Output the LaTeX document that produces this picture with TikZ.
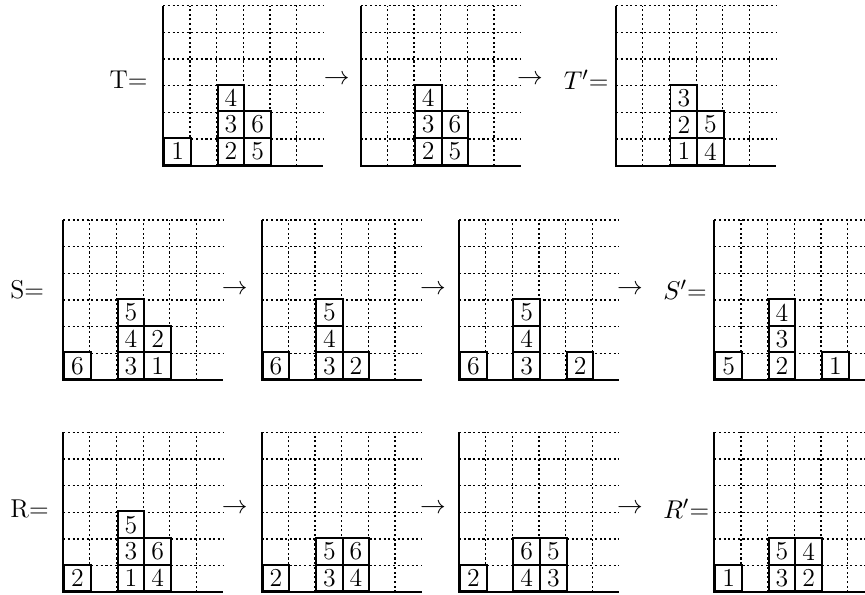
\documentclass[tikz,border=0pt]{standalone}
\usepackage{amsmath,amssymb}
\usepackage{tikz}

% one frame of the diagram: #1,#2 origin, #3 name prefix, #4 filled cells col/row/entry
\newcommand{\youngtab}[4]{%
  \begin{scope}[shift={(#1,#2)}]
    \foreach \i in {1,...,5} \draw[gridline] (\i,0) -- (\i,6);
    \foreach \i in {1,...,6} \draw[gridline] (0,\i) -- (6,\i);
    \draw[axisline] (0,6) -- (0,0) -- (6,0);
    \foreach \c/\r/\v in {#4} \node[cell] (#3-\c-\r) at (\c,\r) {\v};
  \end{scope}}

\begin{document}
\begin{tikzpicture}[x=0.4cm,y=0.4cm,font=\fontsize{11}{13}\selectfont,
  gridline/.style={line width=0.5pt,dash pattern=on 0.9pt off 1.1pt},
  axisline/.style={line width=0.85pt},
  cell/.style={rectangle,draw,fill=white,line width=0.85pt,minimum size=0.4cm,inner sep=0pt,anchor=south west},
  lbl/.style={inner sep=0pt}]
\useasboundingbox (0,0) rectangle (32.43,22.27);
% first row
\node[lbl,anchor=east] (tlab) at (5.55,19.27) {T=};
\youngtab{6.12}{16.06}{ta}{0/0/1,2/0/2,2/1/3,2/2/4,3/0/5,3/1/6}
\node[lbl] (tar1) at (12.62,19.27) {$\to$};
\youngtab{13.52}{16.06}{tb}{2/0/2,2/1/3,2/2/4,3/0/5,3/1/6}
\node[lbl] (tar2) at (19.87,19.27) {$\to$};
\node[lbl,anchor=west] (tplab) at (21.12,19.27) {$T'$=};
\youngtab{23.10}{16.06}{tc}{2/0/1,2/1/2,2/2/3,3/0/4,3/1/5}
% second row
\node[lbl,anchor=west] (slab) at (0.375,11.4) {S=};
\youngtab{2.37}{8.02}{sa}{0/0/6,2/0/3,2/1/4,2/2/5,3/0/1,3/1/2}
\node[lbl] (sar1) at (8.8,11.4) {$\to$};
\youngtab{9.81}{8.02}{sb}{0/0/6,2/0/3,2/1/4,2/2/5,3/0/2}
\node[lbl] (sar2) at (16.23,11.4) {$\to$};
\youngtab{17.21}{8.02}{sc}{0/0/6,2/0/3,2/1/4,2/2/5,4/0/2}
\node[lbl] (sar3) at (23.62,11.4) {$\to$};
\node[lbl,anchor=west] (splab) at (24.85,11.4) {$S'$=};
\youngtab{26.78}{8.02}{sd}{0/0/5,2/0/2,2/1/3,2/2/4,4/0/1}
% third row
\node[lbl,anchor=west] (rlab) at (0.375,3.2) {R=};
\youngtab{2.37}{0.06}{ra}{0/0/2,2/0/1,2/1/3,2/2/5,3/0/4,3/1/6}
\node[lbl] (rar1) at (8.8,3.2) {$\to$};
\youngtab{9.81}{0.06}{rb}{0/0/2,2/0/3,2/1/5,3/0/4,3/1/6}
\node[lbl] (rar2) at (16.23,3.2) {$\to$};
\youngtab{17.21}{0.06}{rc}{0/0/2,2/0/4,2/1/6,3/0/3,3/1/5}
\node[lbl] (rar3) at (23.62,3.2) {$\to$};
\node[lbl,anchor=west] (rplab) at (24.85,3.2) {$R'$=};
\youngtab{26.78}{0.06}{rd}{0/0/1,2/0/3,2/1/5,3/0/2,3/1/4}
\end{tikzpicture}
\end{document}
